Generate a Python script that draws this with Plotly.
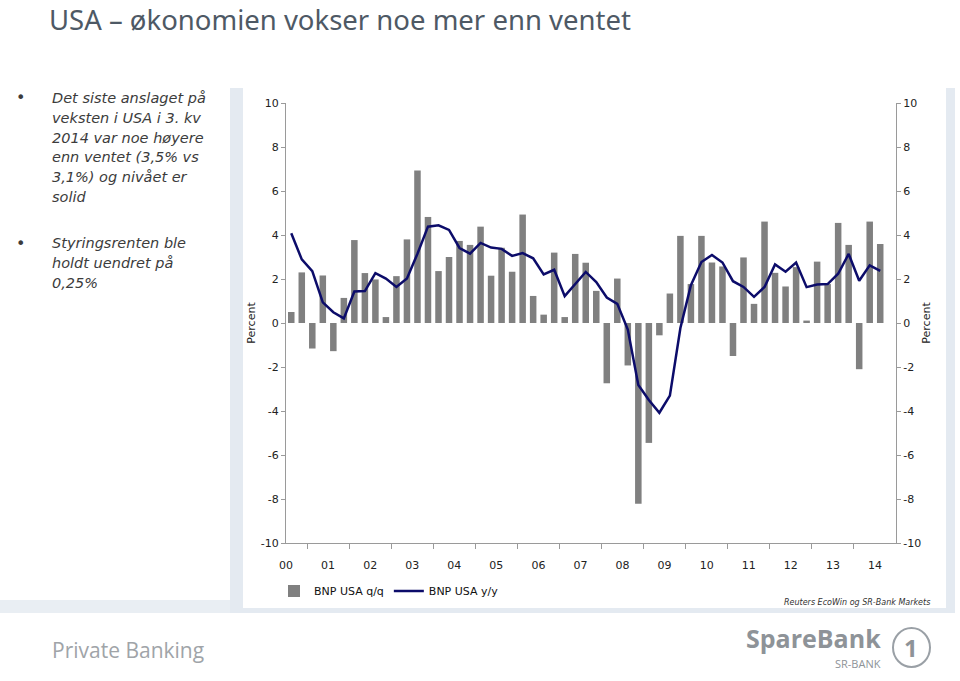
import plotly.graph_objects as go

# ---- data ----
start_quarter = "2000Q3"
gdp_qq = [0.5, 2.3,
          -1.16, 2.16, -1.28, 1.14,
          3.77, 2.27, 1.98, 0.27,
          2.13, 3.8, 6.93, 4.82,
          2.36, 3.0, 3.73, 3.55,
          4.38, 2.15, 3.42, 2.33,
          4.93, 1.23, 0.38, 3.2,
          0.27, 3.14, 2.74, 1.46,
          -2.74, 2.02, -1.93, -8.22,
          -5.45, -0.56, 1.34, 3.96,
          1.77, 3.96, 2.75, 2.57,
          -1.5, 2.98, 0.87, 4.61,
          2.28, 1.66, 2.54, 0.11,
          2.79, 1.77, 4.55, 3.55,
          -2.1, 4.61, 3.59]
gdp_yy = [4.08, 2.89,
          2.36, 0.94, 0.49, 0.21,
          1.43, 1.45, 2.27, 2.02,
          1.64, 2.02, 3.15, 4.38,
          4.44, 4.23, 3.41, 3.15,
          3.64, 3.43, 3.37, 3.05,
          3.18, 2.94, 2.21, 2.42,
          1.22, 1.77, 2.32, 1.86,
          1.16, 0.87, -0.3, -2.82,
          -3.5, -4.08, -3.3, -0.23,
          1.72, 2.77, 3.09, 2.75,
          1.90, 1.64, 1.19, 1.64,
          2.66, 2.33, 2.75, 1.63,
          1.75, 1.77, 2.24, 3.14,
          1.92, 2.62, 2.37]
year_labels = ["00", "01", "02", "03", "04", "05", "06", "07",
               "08", "09", "10", "11", "12", "13", "14"]
y_ticks = [10, 8, 6, 4, 2, 0, -2, -4, -6, -8, -10]
y_tick_text = ["10", "8", "6", "4", "2", "0", "-2", "-4", "-6", "-8", "-10"]

title_text = "USA \u2013 økonomien vokser noe mer enn ventet"
bullet1 = ["Det siste anslaget på", "veksten i USA i 3. kv", "2014 var noe høyere",
           "enn ventet (3,5% vs", "3,1%) og nivået er", "solid"]
bullet2 = ["Styringsrenten ble", "holdt uendret på", "0,25%"]
source_text = "Reuters EcoWin og SR-Bank Markets"

# quarter positions: index 0 = 2000Q3 ; year 2000 starts at index -2
x = list(range(len(gdp_qq)))
first_q_offset = 2  # 2000Q3 is 2 quarters after 2000Q1
year_centers = [4 * k - first_q_offset + 1.5 for k in range(len(year_labels))]
x_min = -0.5
x_max = 4 * len(year_labels) - first_q_offset - 0.5

FONT = "DejaVu Sans"
AX = "#9a9a9a"

fig = go.Figure()
fig.add_trace(go.Bar(x=x, y=gdp_qq, name="BNP USA q/q", marker_color="#808080",
                     marker_line_width=0, width=0.62))
fig.add_trace(go.Scatter(x=x, y=gdp_yy, name="BNP USA y/y", mode="lines",
                         line=dict(color="#0c0c6a", width=2.5)))
fig.add_trace(go.Scatter(x=[x[0]], y=[gdp_yy[0]], yaxis="y2", mode="markers",
                         marker=dict(opacity=0), showlegend=False, hoverinfo="skip"))

PL, PR, PT, PB = 286, 896, 103, 543
W, H = 960, 681

def px(xp):
    return (xp - PL) / (PR - PL)

def py(yp):
    return (PB - yp) / (PB - PT)

shapes = [
    # chart frame
    dict(type="rect", xref="paper", yref="paper", x0=px(230), x1=px(955), y0=py(613), y1=py(88),
         fillcolor="#e4eaf1", line_width=0, layer="below"),
    dict(type="rect", xref="paper", yref="paper", x0=px(243), x1=px(946), y0=py(608), y1=py(88),
         fillcolor="white", line_width=0, layer="below"),
    dict(type="rect", xref="paper", yref="paper", x0=px(0), x1=px(230), y0=py(613), y1=py(600),
         fillcolor="#e9eef3", line_width=0, layer="below"),
    # logo circle
    dict(type="circle", xref="paper", yref="paper", x0=px(893), x1=px(930), y0=py(667), y1=py(628),
         line=dict(color="#9aa0a6", width=2), fillcolor="rgba(0,0,0,0)"),
]

ann = []
ann.append(dict(text=title_text, x=px(48), y=py(0), xref="paper", yref="paper",
                xanchor="left", yanchor="top", showarrow=False, borderpad=0,
                font=dict(family="Noto Sans", size=27.5, color="#4e5965")))
for i, t in enumerate(bullet1):
    ann.append(dict(text="<i>" + t + "</i>", x=px(50), y=py(98 + i * 19.8), xref="paper", yref="paper",
                    xanchor="left", yanchor="middle", showarrow=False,
                    font=dict(family=FONT, size=14.5, color="#3c3c3c")))
for i, t in enumerate(bullet2):
    ann.append(dict(text="<i>" + t + "</i>", x=px(50), y=py(243 + i * 19.8), xref="paper", yref="paper",
                    xanchor="left", yanchor="middle", showarrow=False,
                    font=dict(family=FONT, size=14.5, color="#3c3c3c")))
for yy in (98, 243):
    ann.append(dict(text="•", x=px(20), y=py(yy), xref="paper", yref="paper",
                    xanchor="center", yanchor="middle", showarrow=False,
                    font=dict(family=FONT, size=16, color="#3c3c3c")))
ann.append(dict(text="<i>" + source_text + "</i>", x=px(932), y=py(602), xref="paper", yref="paper",
                xanchor="right", yanchor="middle", showarrow=False,
                font=dict(family=FONT, size=8, color="#333333")))
ann.append(dict(text="Private Banking", x=px(50), y=py(650), xref="paper", yref="paper",
                xanchor="left", yanchor="middle", showarrow=False,
                font=dict(family="Open Sans", size=21, color="#a0a4a8")))
ann.append(dict(text="<b>SpareBank</b>", x=px(883), y=py(638), xref="paper", yref="paper",
                xanchor="right", yanchor="middle", showarrow=False,
                font=dict(family="Open Sans", size=25, color="#8e9398")))
ann.append(dict(text="SR-BANK", x=px(883), y=py(663), xref="paper", yref="paper",
                xanchor="right", yanchor="middle", showarrow=False,
                font=dict(family="Open Sans", size=11, color="#8e9398")))
ann.append(dict(text="<b>1</b>", x=px(911.5), y=py(647.5), xref="paper", yref="paper",
                xanchor="center", yanchor="middle", showarrow=False,
                font=dict(family="Open Sans", size=24, color="#8e9398")))

fig.update_layout(
    width=W, height=H, autosize=False,
    margin=dict(l=PL, r=W - PR, t=PT, b=H - PB, pad=0),
    paper_bgcolor="white", plot_bgcolor="white",
    font=dict(family=FONT, size=11, color="#222222"),
    showlegend=True,
    legend=dict(orientation="h", x=px(274), y=py(591), xanchor="left", yanchor="middle",
                font=dict(family=FONT, size=11, color="#111111"), bgcolor="rgba(0,0,0,0)",
                itemwidth=30, traceorder="normal"),
    bargap=0.3,
    xaxis=dict(range=[x_min, x_max], tickmode="array", tickvals=year_centers, ticktext=year_labels,
               ticks="", showgrid=False, zeroline=False, showline=True, linecolor=AX, linewidth=1,
               ticklabelstandoff=12, tickfont=dict(family=FONT, size=11, color="#222222"),
               minor=dict(tickmode="array",
                          tickvals=[4 * k - first_q_offset - 0.5 for k in range(1, len(year_labels))],
                          ticks="outside", ticklen=5, tickcolor=AX, showgrid=False),
               fixedrange=True),
    yaxis=dict(range=[-10, 10], tickmode="array", tickvals=y_ticks, ticktext=y_tick_text,
               ticks="outside", ticklen=4, tickcolor=AX, showgrid=False, zeroline=False,
               showline=True, linecolor=AX, linewidth=1,
               title=dict(text="Percent", standoff=2, font=dict(family=FONT, size=11)),
               tickfont=dict(family=FONT, size=11, color="#222222")),
    yaxis2=dict(range=[-10, 10], overlaying="y", side="right", tickmode="array", tickvals=y_ticks,
                ticktext=y_tick_text, ticks="outside", ticklen=4, tickcolor=AX, showgrid=False,
                zeroline=False, showline=True, linecolor=AX, linewidth=1,
                title=dict(text="Percent", standoff=2, font=dict(family=FONT, size=11)),
                tickfont=dict(family=FONT, size=11, color="#222222")),
    shapes=shapes,
    annotations=ann,
)

fig.write_html("out.html", config={"displayModeBar": False},
               post_script="document.body.style.margin='0';")
